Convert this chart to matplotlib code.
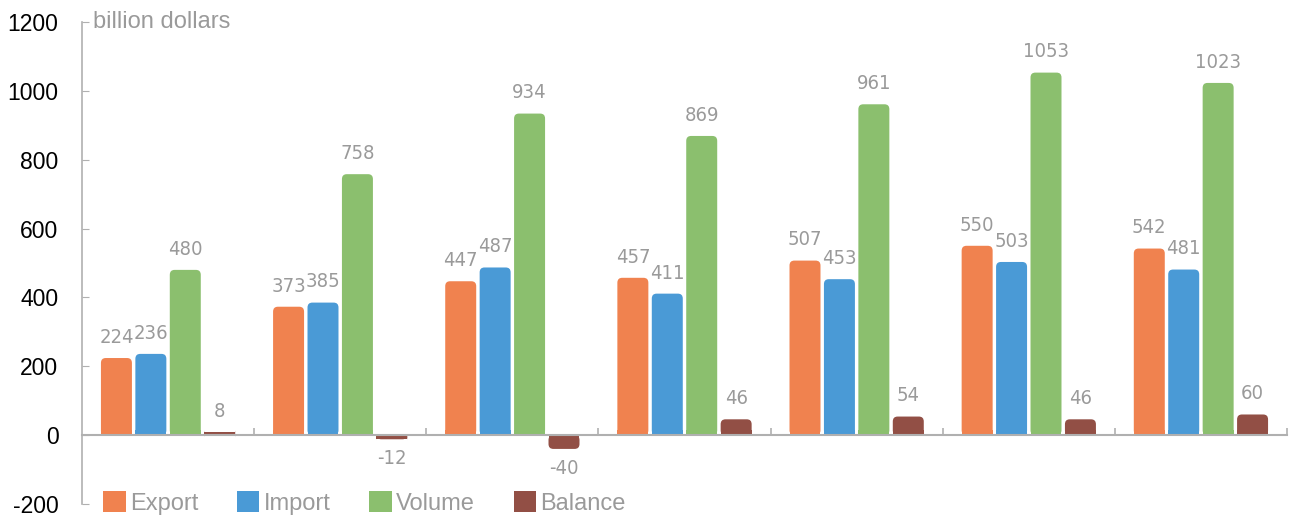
import numpy as np
import matplotlib.pyplot as plt
from matplotlib.patches import Patch, FancyBboxPatch, Rectangle

plt.rcParams["axes.unicode_minus"] = False

# data (billion dollars), 7 groups
export = [224, 373, 447, 457, 507, 550, 542]
imports = [236, 385, 487, 411, 453, 503, 481]
volume = [480, 758, 934, 869, 961, 1053, 1023]
balance = [8, -12, -40, 46, 54, 46, 60]

series_names = ["Export", "Import", "Volume", "Balance"]
series = [export, imports, volume, balance]
colors = ["#F0824F", "#4A9AD6", "#8BBF6E", "#924F45"]

grey = "#9a9a9a"
spine_col = "#b0b0b0"

fig = plt.figure(figsize=(12.93, 5.18), dpi=100)
ax = fig.add_axes([82 / 1293, 1 - 504 / 518, (1287 - 82) / 1293, (504 - 22) / 518])

n = len(export)
x = np.arange(n) + 0.5
width = 0.18
r = 0.028          # corner radius in x units
aspect = 510       # y units per x unit (approx. on screen)
for k, (vals, col) in enumerate(zip(series, colors)):
    xs = x + (k - 1.5) * 0.2
    for xi, v in zip(xs, vals):
        left = xi - width / 2
        # rounded bar, squared off at the zero line
        ax.add_patch(FancyBboxPatch((left, min(0, v)), width, abs(v),
                                    boxstyle=f"round,pad=0,rounding_size={r}",
                                    mutation_aspect=aspect, facecolor=col,
                                    edgecolor="none", zorder=2))
        sq = min(abs(v), r * aspect)
        ax.add_patch(Rectangle((left, 0 if v >= 0 else -sq), width, sq,
                               facecolor=col, edgecolor="none", zorder=2))
        if v >= 0:
            ax.annotate(str(v), (xi, v), xytext=(0, 8), textcoords="offset points",
                        ha="center", va="bottom", color=grey, fontsize=14.5,
                        family="DejaVu Sans", fontstretch="condensed")
        else:
            ax.annotate(str(v), (xi, v), xytext=(0, -7), textcoords="offset points",
                        ha="center", va="top", color=grey, fontsize=14.5,
                        family="DejaVu Sans", fontstretch="condensed")

ax.set_xlim(0, n)
ax.set_ylim(-200, 1200)
ax.set_yticks(np.arange(-200, 1201, 200))
ax.set_xticks(np.arange(1, n + 1))
ax.set_xticklabels([])

for s in ["top", "right"]:
    ax.spines[s].set_visible(False)
ax.spines["bottom"].set_position(("data", 0))
ax.spines["bottom"].set_color(spine_col)
ax.spines["bottom"].set_linewidth(1.5)
ax.spines["left"].set_color(spine_col)
ax.spines["left"].set_linewidth(1.2)
ax.spines["left"].set_zorder(3)
ax.spines["bottom"].set_zorder(3)

ax.tick_params(axis="y", direction="in", length=5, color=spine_col,
               labelsize=16.5, labelcolor="black", pad=17)
for lab in ax.get_yticklabels():
    lab.set_family("Liberation Sans")
ax.tick_params(axis="x", direction="in", length=5, color=spine_col, width=1.2)

ax.text(0.009, 1.0, "billion dollars", transform=ax.transAxes, ha="left",
        va="center", color=grey, fontsize=17, family="Liberation Sans")

handles = [Patch(facecolor=c, edgecolor="none") for c in colors]
leg = ax.legend(handles, series_names, loc="lower left", bbox_to_anchor=(0.0, -0.066),
                ncol=4, frameon=False, handlelength=0.95, handleheight=0.95,
                handletextpad=0.17, columnspacing=1.65,
                prop={"family": "Liberation Sans", "size": 17})
for t in leg.get_texts():
    t.set_color(grey)

fig.savefig("out.png", dpi=100)
